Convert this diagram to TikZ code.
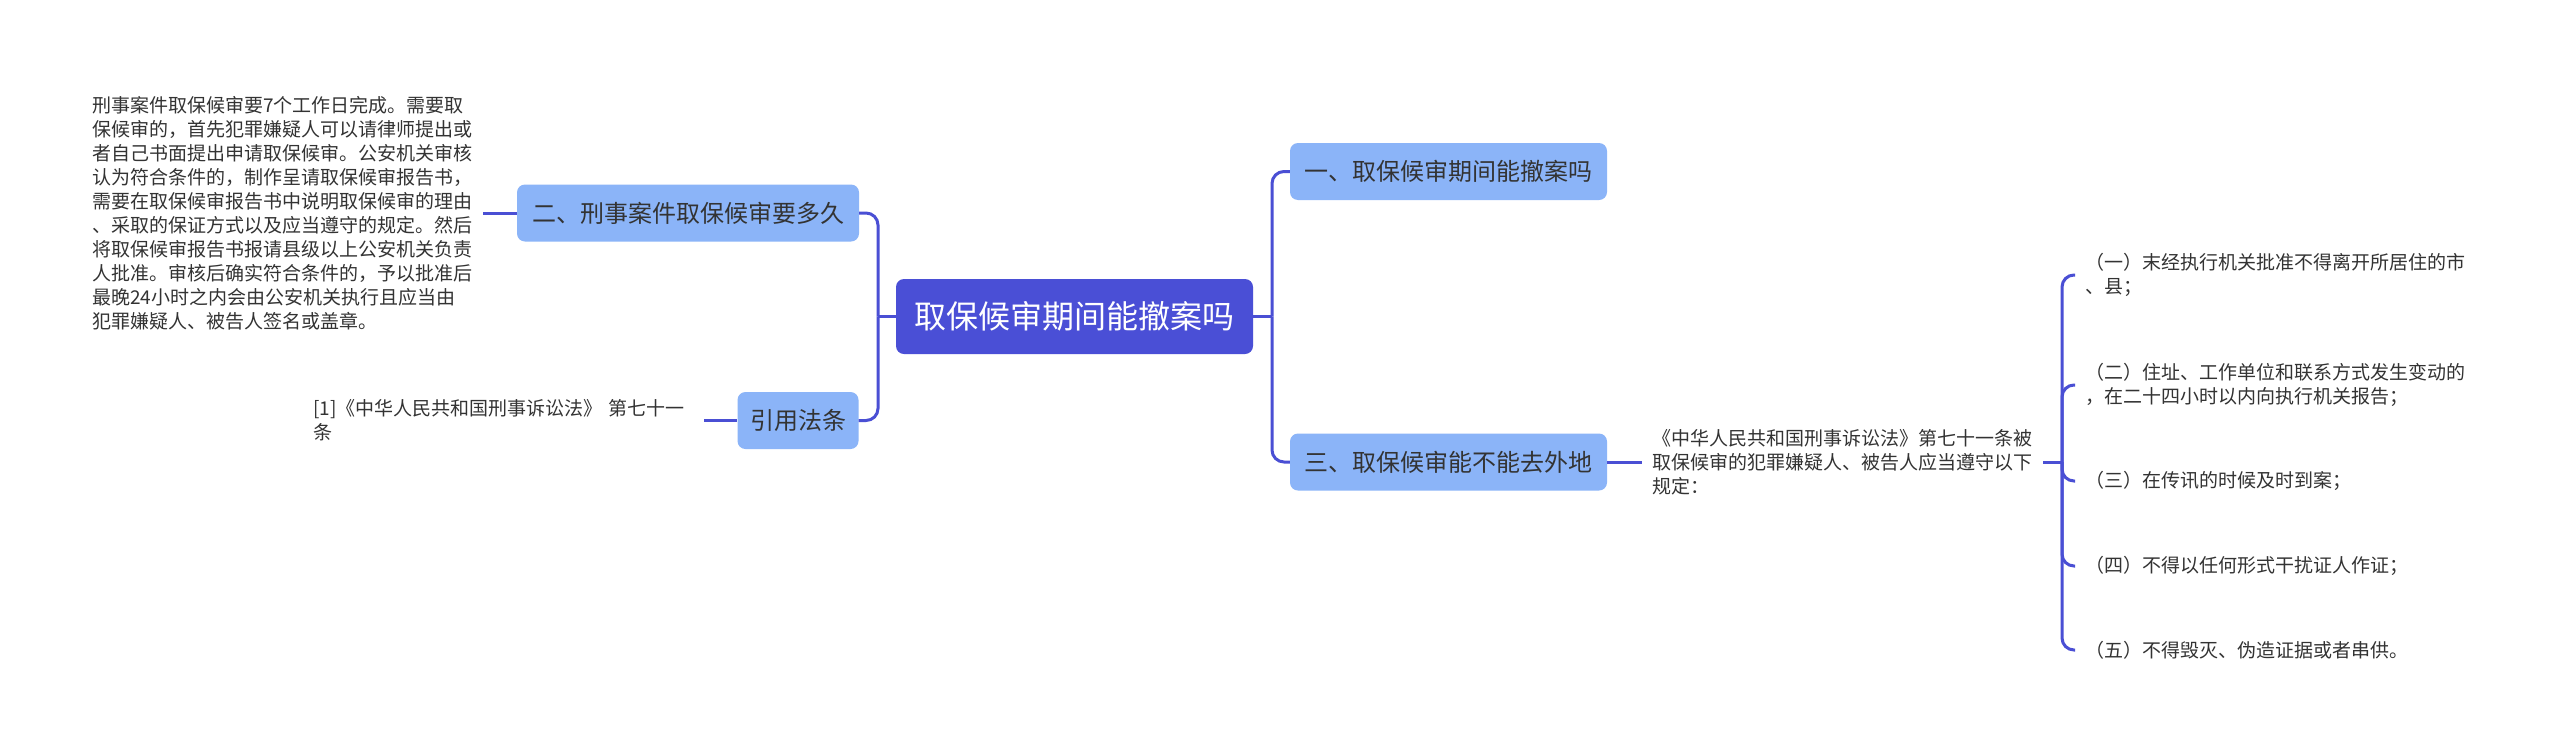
\documentclass[tikz,border=0pt]{standalone}
\usepackage{fontspec}
\setmainfont{Noto Sans CJK SC}
\definecolor{linec}{RGB}{74,79,212}
\definecolor{centerc}{RGB}{74,79,214}
\definecolor{topicc}{RGB}{139,180,248}
\definecolor{textc}{RGB}{51,51,51}
\begin{document}
\begin{tikzpicture}[x=1pt,y=-1pt,
  conn/.style={draw=linec, line width=3pt, rounded corners=12pt},
  centerbox/.style={fill=centerc, rounded corners=8pt, text=white, font=\fontsize{32}{38}\selectfont, minimum width=357pt, minimum height=75pt, inner sep=0pt},
  topic/.style={fill=topicc, rounded corners=8pt, text=textc, font=\fontsize{24}{30}\selectfont, minimum height=57pt, inner sep=0pt},
  leaf/.style={text=textc, font=\fontsize{19}{24}\selectfont, align=left, inner xsep=10pt, inner ysep=0pt, text width=381pt, anchor=west}]
\path[use as bounding box, fill=white] (0,0) rectangle (2560,753);

\node[centerbox] (c) at (1074.5,316.5) {取保候审期间能撤案吗};
\node[topic, minimum width=317pt] (n1) at (1448.5,171.5) {一、取保候审期间能撤案吗};
\node[topic, minimum width=317pt] (n3) at (1448.5,462) {三、取保候审能不能去外地};
\node[topic, minimum width=342pt] (n2) at (688,213) {二、刑事案件取保候审要多久};
\node[topic, minimum width=121pt] (n4) at (798,420.5) {引用法条};

\node[leaf] (l2) at (82,213) {刑事案件取保候审要7个工作日完成。需要取\\保候审的，首先犯罪嫌疑人可以请律师提出或\\者自己书面提出申请取保候审。公安机关审核\\认为符合条件的，制作呈请取保候审报告书，\\需要在取保候审报告书中说明取保候审的理由\\、采取的保证方式以及应当遵守的规定。然后\\将取保候审报告书报请县级以上公安机关负责\\人批准。审核后确实符合条件的，予以批准后\\最晚24小时之内会由公安机关执行且应当由\\犯罪嫌疑人、被告人签名或盖章。};
\node[leaf] (l4) at (303,420.5) {[1]《中华人民共和国刑事诉讼法》 第七十一\\条};
\node[leaf] (l3) at (1642,462) {《中华人民共和国刑事诉讼法》第七十一条被\\取保候审的犯罪嫌疑人、被告人应当遵守以下\\规定：};

\node[leaf] (i1) at (2075,275) {（一）末经执行机关批准不得离开所居住的市\\、县；};
\node[leaf] (i2) at (2075,385) {（二）住址、工作单位和联系方式发生变动的\\，在二十四小时以内向执行机关报告；};
\node[leaf] (i3) at (2075,481) {（三）在传讯的时候及时到案；};
\node[leaf] (i4) at (2075,566) {（四）不得以任何形式干扰证人作证；};
\node[leaf] (i5) at (2075,650) {（五）不得毁灭、伪造证据或者串供。};

\coordinate (jl) at (878,316.5);
\coordinate (jr) at (1272,316.5);
\coordinate (j3) at (2062,462);

\draw[conn] (c.west) -- (jl);
\draw[conn] (jl) |- (n2.east);
\draw[conn] (jl) |- (n4.east);
\draw[conn] (c.east) -- (jr);
\draw[conn] (jr) |- (n1.west);
\draw[conn] (jr) |- (n3.west);
\draw[conn] (l2.east) -- (n2.west);
\draw[conn] (l4.east) -- (n4.west);
\draw[conn] (n3.east) -- (l3.west);
\draw[conn] (l3.east) -- (j3);
\draw[conn] (j3) |- (i1.west);
\draw[conn] (j3) |- (i2.west);
\draw[conn] (j3) |- (i3.west);
\draw[conn] (j3) |- (i4.west);
\draw[conn] (j3) |- (i5.west);
\end{tikzpicture}
\end{document}
